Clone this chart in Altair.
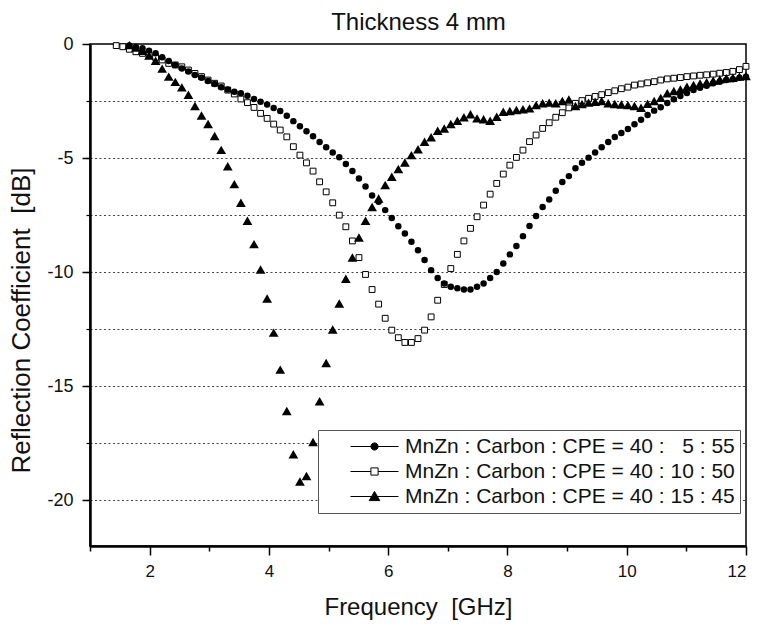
import altair as alt
import pandas as pd

# Frequency sweep (GHz)
FREQ = [1.44, 1.55, 1.66, 1.77, 1.88, 1.99, 2.10, 2.21, 2.32, 2.43, 2.54, 2.65, 2.76, 2.87, 2.98,
        3.09, 3.20, 3.31, 3.42, 3.53, 3.64, 3.75, 3.86, 3.97, 4.08, 4.19, 4.30, 4.41, 4.52, 4.63,
        4.74, 4.85, 4.96, 5.07, 5.18, 5.29, 5.40, 5.51, 5.62, 5.73, 5.84, 5.95, 6.06, 6.17, 6.28,
        6.39, 6.50, 6.61, 6.72, 6.83, 6.94, 7.05, 7.16, 7.27, 7.38, 7.49, 7.60, 7.71, 7.82, 7.93,
        8.04, 8.15, 8.26, 8.37, 8.48, 8.59, 8.70, 8.81, 8.92, 9.03, 9.14, 9.25, 9.36, 9.47, 9.58,
        9.69, 9.80, 9.91, 10.02, 10.13, 10.24, 10.35, 10.46, 10.57, 10.68, 10.79, 10.90, 11.01,
        11.12, 11.23, 11.34, 11.45, 11.56, 11.67, 11.78, 11.89, 12.00]

# 40 : 5 : 55  (filled circles)
RC_5 = [None, None, -0.06, -0.13, -0.19, -0.29, -0.41, -0.58, -0.75, -0.92, -1.07, -1.21, -1.36,
        -1.48, -1.62, -1.75, -1.90, -1.99, -2.09, -2.16, -2.27, -2.41, -2.53, -2.65, -2.80, -2.94,
        -3.14, -3.38, -3.60, -3.82, -4.04, -4.29, -4.52, -4.76, -4.96, -5.26, -5.57, -5.89, -6.25,
        -6.64, -6.91, -7.28, -7.63, -7.99, -8.30, -8.67, -9.04, -9.47, -9.91, -10.25, -10.50,
        -10.64, -10.70, -10.76, -10.76, -10.64, -10.50, -10.25, -9.99, -9.62, -9.22, -8.85, -8.42,
        -7.98, -7.54, -7.14, -6.81, -6.43, -6.05, -5.79, -5.45, -5.20, -4.98, -4.76, -4.52, -4.29,
        -4.08, -3.90, -3.73, -3.52, -3.32, -3.11, -2.92, -2.77, -2.59, -2.42, -2.28, -2.15, -2.02,
        -1.92, -1.83, -1.72, -1.65, -1.58, -1.54, -1.48, -1.43]

# 40 : 10 : 50  (open squares)
RC_10 = [-0.07, -0.12, -0.23, -0.34, -0.41, -0.48, -0.59, -0.70, -0.85, -0.92, -1.00, -1.14, -1.29,
         -1.43, -1.58, -1.72, -1.84, -2.02, -2.19, -2.41, -2.57, -2.78, -3.04, -3.26, -3.51, -3.77,
         -4.07, -4.50, -4.87, -5.21, -5.57, -6.04, -6.48, -6.96, -7.50, -8.01, -8.63, -9.36, -10.10,
         -10.76, -11.40, -12.02, -12.54, -12.87, -13.08, -13.08, -12.91, -12.54, -11.96, -11.23,
         -10.54, -9.84, -9.22, -8.63, -8.08, -7.57, -7.06, -6.58, -6.11, -5.70, -5.31, -4.97, -4.65,
         -4.28, -3.99, -3.70, -3.45, -3.21, -3.01, -2.80, -2.60, -2.48, -2.38, -2.30, -2.22, -2.13,
         -2.05, -1.96, -1.89, -1.80, -1.75, -1.70, -1.65, -1.58, -1.53, -1.50, -1.47, -1.43, -1.40,
         -1.37, -1.35, -1.32, -1.28, -1.25, -1.20, -1.12, -0.98]

# 40 : 15 : 45  (filled triangles)
RC_15 = [None, None, -0.05, -0.15, -0.30, -0.50, -0.73, -1.08, -1.43, -1.66, -1.90, -2.22, -2.72,
         -3.13, -3.51, -4.03, -4.64, -5.36, -6.14, -6.96, -7.75, -8.77, -9.88, -11.15, -12.65,
         -14.27, -16.08, -17.98, -19.17, -18.93, -17.44, -15.66, -13.98, -12.51, -11.37, -10.29,
         -9.36, -8.48, -7.75, -7.14, -6.77, -6.18, -5.82, -5.48, -5.19, -4.87, -4.61, -4.28, -4.09,
         -3.80, -3.70, -3.51, -3.36, -3.21, -3.08, -3.26, -3.30, -3.36, -3.19, -2.97, -2.94, -2.89,
         -2.86, -2.82, -2.68, -2.60, -2.57, -2.60, -2.50, -2.43, -2.72, -2.63, -2.57, -2.53, -2.50,
         -2.60, -2.63, -2.65, -2.68, -2.72, -2.79, -2.62, -2.50, -2.36, -2.16, -2.06, -1.99, -1.87,
         -1.80, -1.73, -1.68, -1.61, -1.55, -1.50, -1.48, -1.43, -1.40]

NB = "\u00a0"
SERIES = [
    "MnZn : Carbon : CPE = 40 : " + NB + NB + "5 : 55" + NB * 5,
    "MnZn : Carbon : CPE = 40 : 10 : 50" + NB * 5,
    "MnZn : Carbon : CPE = 40 : 15 : 45" + NB * 5,
]
TITLE = "Thickness 4 mm"
X_TITLE = "Frequency" + NB + " [GHz]"
Y_TITLE = "Reflection Coefficient" + NB + " [dB]"
X_MAJOR = [2, 4, 6, 8, 10, 12]
X_MINOR = [1, 3, 5, 7, 9, 11]
Y_MAJOR = [0, -5, -10, -15, -20]
Y_GRID = [-2.5, -5, -7.5, -10, -12.5, -15, -17.5, -20]

rows = []
for name, vals in zip(SERIES, [RC_5, RC_10, RC_15]):
    for f, v in zip(FREQ, vals):
        if v is not None:
            rows.append({"freq": f, "rc": v, "series": name})
df = pd.DataFrame(rows)

FONT = "Liberation Sans"
INK = "#111"
xs = alt.Scale(domain=[1, 12], nice=False, zero=False)
ys = alt.Scale(domain=[-22, 0], nice=False, zero=False)

x_major = alt.Axis(values=X_MAJOR, orient="bottom", title=X_TITLE, grid=False,
                   domainColor="black", domainWidth=2.5, tickColor="black", tickWidth=1.5,
                   tickSize=9, labelFontSize=17, labelPadding=8, labelColor=INK,
                   titleFontSize=24, titleFontWeight="normal", titleColor=INK,
                   titleBaseline="alphabetic", titleY=68,
                   labelFont=FONT, titleFont=FONT)
x_minor = alt.Axis(values=X_MINOR, orient="bottom", title=None, labels=False, domain=False,
                   grid=False, tickColor="black", tickWidth=1.5, tickSize=5)
x_top = alt.Axis(orient="top", title=TITLE, labels=False, ticks=False, domain=False, grid=False,
                 titleFontSize=24, titleFontWeight="normal", titleColor=INK, titleFont=FONT,
                 titleBaseline="alphabetic", titleY=-15)
y_major = alt.Axis(values=Y_MAJOR, orient="left", title=Y_TITLE,
                   grid=False, domainColor="black", domainWidth=2.5, tickColor="black",
                   tickWidth=1.5, tickSize=8, labelFontSize=18, labelPadding=9,
                   labelColor=INK, labelExpr="toString(datum.value)",
                   titleFontSize=26, titleFontWeight="normal", titleColor=INK,
                   titleBaseline="alphabetic", titleX=-61, titleY=276,
                   labelFont=FONT, titleFont=FONT)
y_grid = alt.Axis(values=Y_GRID, orient="left", title=None, labels=False, domain=False,
                  grid=True, gridColor="#444", gridDash=[2, 2.5], gridWidth=1.2,
                  tickColor="black", tickWidth=1.2, tickSize=4)

base = alt.Chart(df)

circles = base.transform_filter(alt.datum.series == SERIES[0]).mark_point(
    shape="circle", filled=True, color="black", size=42, opacity=1
).encode(x=alt.X("freq:Q", scale=xs, axis=x_major), y=alt.Y("rc:Q", scale=ys, axis=y_major))

squares = base.transform_filter(alt.datum.series == SERIES[1]).mark_point(
    shape="square", filled=False, fill="white", stroke="black", strokeWidth=1, size=34, opacity=1
).encode(x=alt.X("freq:Q", scale=xs, axis=x_minor), y=alt.Y("rc:Q", scale=ys, axis=y_grid))

triangles = base.transform_filter(alt.datum.series == SERIES[2]).mark_point(
    shape="triangle-up", filled=True, color="black", size=95, opacity=1
).encode(x=alt.X("freq:Q", scale=xs, axis=x_top), y=alt.Y("rc:Q", scale=ys, axis=None))

# legend symbols: line with the marker in the middle
P_C = "M-1,0H1M0.15,0A0.15,0.15,0,1,1,-0.15,0A0.15,0.15,0,1,1,0.15,0Z"
P_S = "M-1,0H-0.15M0.15,0H1M-0.15,-0.15H0.15V0.15H-0.15Z"
P_T = "M-1,0H1M0,-0.21L0.22,0.17L-0.22,0.17Z"

leg = alt.Legend(orient="none", legendX=228, legendY=386, title=None, padding=5,
                 symbolSize=2304, clipHeight=23, rowPadding=2, symbolOffset=27, labelOffset=6,
                 labelFontSize=21, labelFont=FONT, labelColor=INK, labelLimit=700,
                 strokeColor="#555", fillColor="white", symbolStrokeWidth=1,
                 symbolStrokeColor="black", symbolOpacity=1)

legend_layer = base.transform_filter("datum.rc > 100").mark_point(
    filled=True, strokeWidth=1
).encode(
    x=alt.X("freq:Q", scale=xs, axis=None),
    y=alt.Y("rc:Q", scale=ys, axis=None),
    shape=alt.Shape("series:N", scale=alt.Scale(domain=SERIES, range=[P_C, P_S, P_T]), legend=leg),
    fill=alt.Fill("series:N", scale=alt.Scale(domain=SERIES, range=["black", "white", "black"]),
                  legend=leg),
    stroke=alt.Stroke("series:N", scale=alt.Scale(domain=SERIES, range=["black", "black", "black"]),
                      legend=leg),
)

chart = alt.layer(squares, circles, triangles, legend_layer).resolve_axis(
    x="independent", y="independent"
).properties(
    width=656, height=502,
    padding={"left": 90, "top": 44, "right": 13, "bottom": 79},
    autosize=alt.AutoSizeParams(type="none"),
).configure(font=FONT, background="white").configure_view(stroke="black", strokeWidth=1.5)

chart.save("out.html", embed_options={"renderer": "svg", "actions": False})
